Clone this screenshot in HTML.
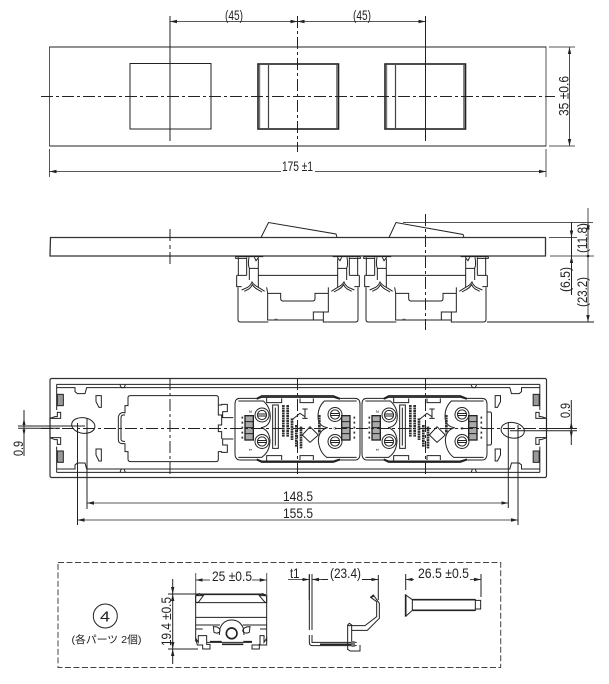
<!DOCTYPE html>
<html><head><meta charset="utf-8"><style>
html,body{margin:0;padding:0;background:#fff;width:609px;height:684px;overflow:hidden}
svg{display:block}
text{font-family:"Liberation Sans","Noto Sans CJK JP",sans-serif;fill:#222;stroke:none}
.l{fill:none;stroke:#222;stroke-width:1}
.g{fill:none;stroke:#555;stroke-width:1}
.t{fill:none;stroke:#222;stroke-width:1.6}
.c{fill:none;stroke:#222;stroke-width:1;stroke-dasharray:12 3 3 3}
.d{fill:none;stroke:#222;stroke-width:.8;marker-start:url(#a);marker-end:url(#a)}
.z{fill:none;stroke:#222;stroke-width:3}
.zt{fill:none;stroke:#222;stroke-width:5}
</style></head><body>
<svg width="609" height="684" viewBox="0 0 609 684" xmlns="http://www.w3.org/2000/svg">
<defs>
<marker id="a" markerUnits="userSpaceOnUse" markerWidth="8" markerHeight="4" refX="7" refY="2" orient="auto-start-reverse"><path d="M0 .3L7 2L0 3.7Z" fill="#222"/></marker>
<g id="halfside">
<path class="z" d="M110 226H140M175 226H294M110 226V260H125M114 262V358Q114 366 122 366H205"/>
<path class="z" d="M115 172V226M140 172V226M107 170V175H140M163 172L168 182L176 172M147 172Q143 195 148 205V240M175 176V262M147 205H175M107 170H190"/>
<path class="z" d="M125 270L143 262Q152 256 156 246Q162 256 175 262L194 274M133 274L148 266Q154 261 157 254Q163 263 172 268L186 276"/>
</g>
<g id="side">
<use href="#halfside"/>
<use href="#halfside" transform="translate(588 0) scale(-1 1)"/>
<path class="z" d="M200 262L203 280V360H340M203 280H242V295Q242 303 250 303H338Q345 303 345 295V280H385V262M385 280V336H340V360H370M370 336V366H383"/>
<path d="M218 360Q228 352 238 360Z" fill="#555"/>
</g>
<g id="oval"><ellipse cx="0" cy="0" rx="11.7" ry="7.8" class="l"/></g>
<g id="screw">
<circle r="7" class="l"/><circle r="4.6" class="l"/><path class="l" d="M-4 -1H4M-4 1H4"/>
</g>
<g id="endL">
<path class="z" d="M170 58H510M170 68H225V80L232 86H255L260 68H510M170 312H225V300L232 294H255L260 312H510M170 322H510M170 58V135M170 245V322"/>
<path class="z" d="M360 60L364 68H372L376 60M360 322L364 312H372L376 322"/>
<rect x="172" y="88" width="18" height="34" fill="#999" stroke="#222" stroke-width="3"/>
<rect x="172" y="258" width="18" height="34" fill="#999" stroke="#222" stroke-width="3"/>
<path class="z" d="M150 160L165 155H172V142H182V160H150M150 218H182V238H172V224H165ZM150 160V218"/>
<path class="z" d="M288 92H304V127H297L288 110ZM288 252H304V288H297L288 270Z"/>
</g>
<g id="mod">
<path class="z" d="M44 40H95L110 32H325L345 40H390Q405 40 405 58V205Q405 225 390 225H345L325 232H110L95 225H46Q30 225 30 205V58Q30 40 44 40Z"/>
<path class="zt" d="M95 42L110 36H325L345 42M95 223L110 229H325L345 223"/>
<path class="z" d="M125 38V53H170V40M225 40V53H265V40M125 227V212H170V225M225 225V212H265V225M40 48H115Q140 70 135 105Q130 125 108 128Q132 135 135 165Q135 200 110 217H40M395 48H298Q275 70 280 105Q285 125 308 128Q282 135 280 165Q282 200 305 217H395"/>
<path class="z" d="M143 60H160V190H143ZM151 68V182"/>
<rect x="60" y="92" width="25" height="73" fill="#aaa" stroke="#222" stroke-width="4"/>
<rect x="350" y="92" width="25" height="73" fill="#aaa" stroke="#222" stroke-width="4"/>
<path class="z" d="M60 110H85M60 128H85M60 146H85M350 110H375M350 128H375M350 146H375"/>
<path d="M175 60V155M188 60V155M201 100V165M214 120V185M228 125V190M283 90V145" stroke="#333" stroke-width="8" stroke-dasharray="6 1.500" fill="none"/>
<path class="z" d="M200 105L225 85L240 95M240 72V100M232 72H248M232 100H248M255 125L280 150L255 172L232 150Z"/>
<path d="M52 95V165M388 95V165" stroke="#333" stroke-width="5" stroke-dasharray="6 9" fill="none"/>
<text x="0" y="0" font-size="15" transform="translate(72 75) rotate(90)">3</text>
<text x="0" y="0" font-size="15" transform="translate(72 190) rotate(90)">1</text>
<text x="0" y="0" font-size="14" transform="translate(326 126) rotate(90)">0</text>
</g>
</defs>

<!-- TOP VIEW -->
<rect class="g" x="49.5" y="47" width="496.5" height="99"/>
<path class="l" d="M49.500 47H546M49.500 146H546"/>
<rect class="l" x="130" y="63.500" width="81" height="65.500"/>
<g id="sw"><rect class="t" x="258" y="64" width="80.500" height="65"/><path d="M268.500 65V128" stroke="#444" stroke-width="1.200"/><path d="M259.500 65V128" stroke="#777" stroke-width="1.400"/><path d="M336.800 65V128" stroke="#777" stroke-width="1.400"/></g>
<use href="#sw" x="127"/>
<path class="c" d="M41 96.500H555"/>
<path class="l" d="M170 16V141M425.500 16V141"/>
<path class="c" d="M297.500 16V152"/>
<path class="d" d="M170 21.500H297.500"/><path class="d" d="M297.500 21.500H425.500"/>
<text x="225" y="20" font-size="14" textLength="18" lengthAdjust="spacingAndGlyphs">(45)</text>
<text x="353" y="20" font-size="14" textLength="18" lengthAdjust="spacingAndGlyphs">(45)</text>
<path class="g" d="M49.500 149V177M546 149V177M549 47H575M549 146H575"/>
<path class="d" d="M49.500 171.500H546"/>
<rect x="281" y="160" width="34" height="13" fill="#fff"/>
<text x="282" y="171" font-size="14" textLength="31" lengthAdjust="spacingAndGlyphs">175 ±1</text>
<path class="d" d="M569.500 47V146"/>
<rect x="557" y="75" width="12" height="42" fill="#fff"/>
<text transform="translate(568.500 116) rotate(-90)" font-size="14" textLength="40" lengthAdjust="spacingAndGlyphs">35 ±0.6</text>

<!-- SIDE VIEW -->
<path d="M50.500 237.500H545.500V256H50Z" fill="none" stroke="#333" stroke-width="1.300"/>
<path class="l" d="M261 237.500L268.500 222.500L336 234L337 237.500M389 237.500L396 222.500L463 234.500L464 237.500"/>
<g transform="translate(200 200) scale(.33333)"><use href="#side"/></g>
<g transform="translate(328 200) scale(.33333)"><use href="#side"/></g>
<path class="g" d="M403 222.500H593M549 237.500H577M550 256H594"/>
<path d="M487 322H594" stroke="#666" stroke-width="1.600"/>
<path class="l" d="M170 229V241M170 245V249M170 252V264"/>
<path class="c" d="M425.500 214V330"/>
<path class="l" d="M571.500 222.500V295"/>
<path class="d" style="marker-start:none" d="M571.500 225V237.500"/>
<path class="d" style="marker-start:none" d="M571.500 265V256"/>
<path class="d" d="M588 208V322" style="marker-start:none"/>
<path class="d" d="M588 240V222.500" style="marker-start:none"/>
<circle cx="588" cy="256" r="1.300" fill="#222"/>
<text transform="translate(570 292) rotate(-90)" font-size="14" textLength="25" lengthAdjust="spacingAndGlyphs">(6.5)</text>
<text transform="translate(587 253) rotate(-90)" font-size="14" textLength="30" lengthAdjust="spacingAndGlyphs">(11.8)</text>
<text transform="translate(587 307) rotate(-90)" font-size="14" textLength="30" lengthAdjust="spacingAndGlyphs">(23.2)</text>

<!-- BOTTOM VIEW -->
<rect x="50" y="378.500" width="496.500" height="99" rx="1.500" fill="none" stroke="#333" stroke-width="1.200"/>
<g transform="translate(0 365) scale(.33333)">
<use href="#endL"/>
<use href="#endL" transform="translate(1789.500 0) scale(-1 1) translate(0 0)"/>
<path class="z" d="M510 58H1280M510 68H1280M510 312H1280M510 322H1280"/>
<path class="z" d="M392 92H648Q655 92 655 98V120H665V118H682V140H668V158H700M392 290H648Q655 290 655 282V260H665V262H682V240H668V222H700M655 120V150H665V180H655V200H665V222M384 98Q384 92 392 92M384 98V122H375V145M384 282Q384 290 392 290M384 282V260H375V235"/>
<path class="z" d="M375 143H365Q355 148 355 158V224Q355 234 365 236H375M375 150H368Q363 152 363 160V222Q363 228 370 229H375"/>
</g>
<g transform="translate(225 385) scale(.33333)"><use href="#mod"/></g>
<g transform="translate(352 385) scale(.33333)"><use href="#mod"/></g>
<path class="l" d="M487 412H490Q491.500 412 491.500 414V443Q491.500 445 490 445H487"/>
<use href="#screw" x="262" y="415"/><use href="#screw" x="262" y="441.500"/><use href="#screw" x="335" y="414.500"/><use href="#screw" x="335" y="441.500"/>
<use href="#screw" x="389" y="415"/><use href="#screw" x="389" y="441.500"/><use href="#screw" x="462" y="414.500"/><use href="#screw" x="462" y="441.500"/>
<g transform="translate(83.300 425.500) rotate(8)"><use href="#oval"/></g>
<g transform="translate(512.700 430.300) rotate(-172)"><use href="#oval"/></g>
<path class="c" d="M41 428.500H555"/>
<path class="c" d="M170 378V478M297.500 378V478M425.500 378V478"/>
<path class="l" d="M18 426H85M18 428.300H60M510 430.700H577M540 428.500H577"/>
<path class="l" d="M24 410V456"/>
<path d="M24 418L22.500 425H25.500ZM24 436L22.500 429.500H25.500ZM571.300 422L569.800 428H572.800ZM571.300 438L569.800 431.500H572.800Z" fill="#222"/>
<path class="l" d="M571.300 400V445"/>
<text transform="translate(23 456) rotate(-90)" font-size="14" textLength="15" lengthAdjust="spacingAndGlyphs">0.9</text>
<text transform="translate(570 418) rotate(-90)" font-size="14" textLength="15" lengthAdjust="spacingAndGlyphs">0.9</text>
<path class="l" d="M87 418V509M77.500 423V525M508.300 422V508M518 425V525"/>
<path class="d" d="M87 503H508.300"/>
<path class="d" d="M77.500 520H518"/>
<text x="283" y="501" font-size="14" textLength="30" lengthAdjust="spacingAndGlyphs">148.5</text>
<text x="283" y="518" font-size="14" textLength="30" lengthAdjust="spacingAndGlyphs">155.5</text>

<!-- PARTS -->
<rect x="58" y="562.500" width="442.700" height="105" fill="none" stroke="#444" stroke-width="1" stroke-dasharray="6 2.500"/>
<circle cx="105.300" cy="616" r="12" class="l"/>
<text x="100" y="621.500" font-size="15" textLength="10" lengthAdjust="spacingAndGlyphs">4</text>
<text x="71.500" y="643" font-size="10.500" textLength="70" lengthAdjust="spacingAndGlyphs">(各パーツ 2個)</text>

<g transform="translate(50 555) scale(.33333)">
<path class="z" d="M437 120V260M650 120V260M437 143H650M437 187H650M437 210H510M578 210H650M437 222H458M630 222H650"/>
<path class="zt" d="M450 118H635M437 122L450 116M650 122L635 116"/>
<path class="z" d="M437 122L460 122L445 142H437ZM650 122L628 122L645 142H650ZM510 220Q520 195 545 195Q570 195 580 220L582 240M510 220L508 240M490 215Q510 215 510 228Q505 238 492 232ZM600 215Q580 215 578 228Q585 238 598 232Z"/>
<circle cx="545" cy="235" r="16" class="zt"/>
<path class="z" d="M437 250L445 262V242H470V268H480V282H458V270H442ZM650 250L642 262V242H630V268H628V282H606V270H650ZM470 262H606"/>
<path class="zt" d="M480 260H515M580 260H606M516 268H580"/>
</g>
<path class="g" d="M195.700 573V596M266.700 573V596"/>
<path class="d" style="marker-start:none" d="M210 580H195.700"/><path class="d" style="marker-start:none" d="M252 580H266.700"/>
<text x="212" y="581" font-size="14" textLength="40" lengthAdjust="spacingAndGlyphs">25 ±0.5</text>
<path class="l" d="M168 594H200M168 649H198M172.700 579V664"/>
<path d="M172.700 594L171 601H174.400ZM172.700 649L171 642H174.400ZM172.700 594L171 587H174.400ZM172.700 649L171 656H174.400Z" fill="#222"/>
<text transform="translate(171 646) rotate(-90)" font-size="14" textLength="49" lengthAdjust="spacingAndGlyphs">19.4 ±0.5</text>

<g transform="translate(280 555) scale(.33333)">
<path class="z" d="M88 60V225M96 60V225"/>
<path class="z" d="M88 240V262Q88 272 98 272H230M96 240V262H230"/>
<path class="z" d="M203 285V210L208 205L215 210V272M203 212H255L290 185V140L272 127L280 120L298 145V190L262 226H215M203 272V282L210 288H240V270"/>
<path class="zt" d="M272 127L282 122M120 268H225"/>
<rect x="214" y="258" width="10" height="18" fill="#777"/>
<path class="zt" d="M377 118V185"/>
<path class="z" d="M377 120L397 134V166L377 184M397 134H586V166H397M586 136H602V162H586"/>
<path class="zt" d="M397 134H586M397 166H586"/>
</g>
<path class="l" d="M309.300 574V600M312 574V600M378.300 575V600M405.700 574V590M481 574V597"/>
<path class="d" style="marker-start:none" d="M288 579.500H309.300"/>
<path class="d" style="marker-start:none" d="M322 579.500H312"/>
<path class="l" d="M322 579.500H328M362 579.500H378.300"/>
<path class="d" style="marker-start:none" d="M370 579.500H378.300"/>
<path class="d" style="marker-start:none" d="M414 579.500H405.700"/><path class="d" style="marker-start:none" d="M470 579.500H481"/>
<text x="290" y="578" font-size="14" textLength="9.500" lengthAdjust="spacingAndGlyphs">t1</text>
<text x="330" y="578" font-size="14" textLength="31" lengthAdjust="spacingAndGlyphs">(23.4)</text>
<text x="418" y="578" font-size="14" textLength="51" lengthAdjust="spacingAndGlyphs">26.5 ±0.5</text>
</svg>
</body></html>
